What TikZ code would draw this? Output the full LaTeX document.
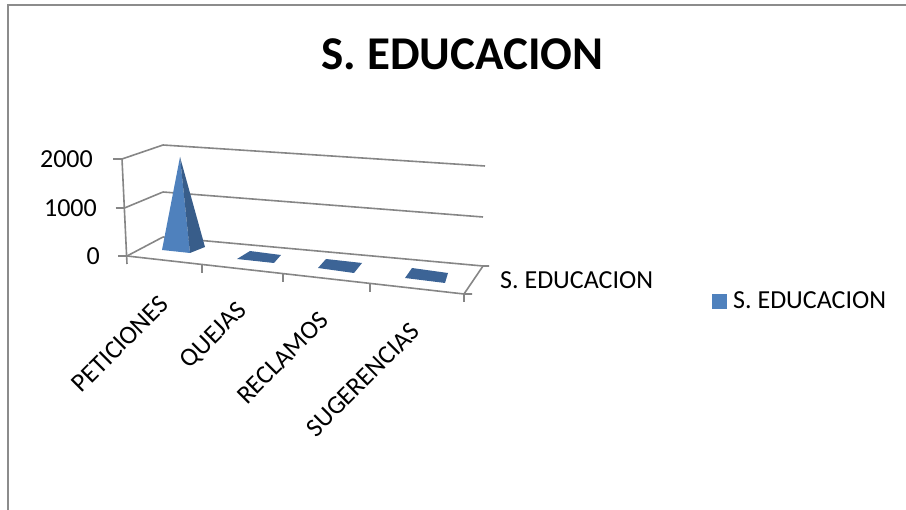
\documentclass[tikz,border=0pt]{standalone}
\usepackage{fontspec}
\setmainfont{Carlito}
\definecolor{gridgray}{HTML}{868686}
\definecolor{framegray}{HTML}{8C8C8C}
\definecolor{barlight}{HTML}{4F81BD}
\definecolor{bardark}{HTML}{385D8A}
\definecolor{flatblue}{HTML}{3C6496}
\begin{document}
\begin{tikzpicture}[x=1pt,y=-1pt,
  grid/.style={draw=gridgray,line width=1.6pt},
  lbl/.style={inner sep=0pt,font=\fontsize{26}{30}\selectfont},
  catlbl/.style={lbl,rotate=45,anchor=east},
  ylbl/.style={lbl,anchor=east}]
\useasboundingbox (0,0) rectangle (906,510);
% frame
\draw[framegray,line width=2.5pt] (8,510) -- (8,5) -- (906,5);
% title
\node[inner sep=0pt,anchor=base,font=\fontsize{47}{56}\selectfont\bfseries] (title) at (462.5,70) {S. EDUCACION};
% back wall gridlines
\draw[grid] (163,145) -- (485,166);
\draw[grid] (163,192) -- (483,217);
\draw[grid] (163,237) -- (483,266) -- (489,266);
% side wall diagonals
\draw[grid] (122,159) -- (163,145);
\draw[grid] (124.5,208) -- (163,192);
\draw[grid] (127,256) -- (163,237);
% vertical axis with ticks
\draw[grid] (122,159) -- (127,264);
\draw[grid] (113,159) -- (122,159);
\draw[grid] (115.5,208) -- (124.5,208);
\draw[grid] (118,256) -- (127,256);
% floor front edge and ticks
\draw[grid] (127,256) -- (464,294) -- (472,294);
\draw[grid] (202,264.5) -- (202,273);
\draw[grid] (283,273.5) -- (283,282);
\draw[grid] (370,283.5) -- (370,292);
\draw[grid] (464,294) -- (464,302);
% depth axis
\draw[grid] (483,266) -- (464,294);
% pyramid
\fill[barlight] (180,157) -- (162,250) -- (190,253) -- cycle;
\fill[bardark] (180,157) -- (190,253) -- (205,247) -- cycle;
% flat markers
\fill[flatblue] (237,259) -- (250,251) -- (281,255) -- (274,263) -- cycle;
\fill[flatblue] (318,268) -- (326,259) -- (362,263) -- (354,273) -- cycle;
\fill[flatblue] (405,278) -- (412,268) -- (448,273) -- (445,283) -- cycle;
% y labels
\node[ylbl] (y2000) at (93,159) {2000};
\node[ylbl] (y1000) at (97,208) {1000};
\node[ylbl] (y0) at (100,256) {0};
% category labels
\node[catlbl] (c1) at (164,300) {PETICIONES};
\node[catlbl] (c2) at (243,307) {QUEJAS};
\node[catlbl] (c3) at (324.5,316) {RECLAMOS};
\node[catlbl] (c4) at (415.5,327) {SUGERENCIAS};
% depth axis label
\node[lbl,anchor=base west] (serie) at (500,289) {S. EDUCACION};
% legend
\fill[barlight] (712,294) rectangle (727,309);
\node[lbl,anchor=base west] (leg) at (733,309) {S. EDUCACION};
\end{tikzpicture}
\end{document}
